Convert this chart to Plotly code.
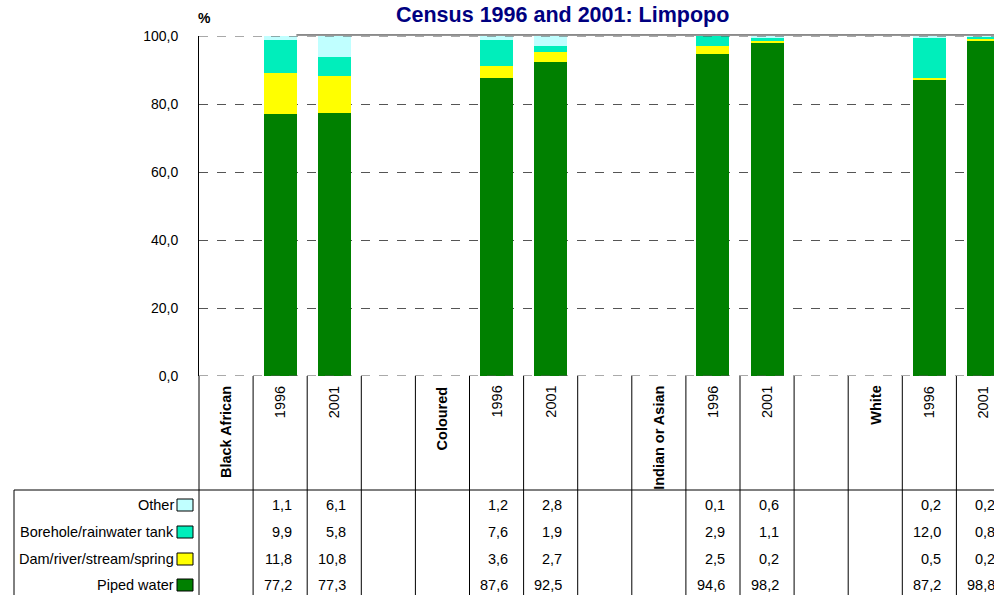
import plotly.graph_objects as go

# ---- data ----
groups = ["Black African", "Coloured", "Indian or Asian", "White"]
years = ["1996", "2001"]
# values per bar: BA96, BA01, C96, C01, IA96, IA01, W96, W01
other = [1.1, 6.1, 1.2, 2.8, 0.1, 0.6, 0.2, 0.2]
borehole = [9.9, 5.8, 7.6, 1.9, 2.9, 1.1, 12.0, 0.8]
dam = [11.8, 10.8, 3.6, 2.7, 2.5, 0.2, 0.5, 0.2]
piped = [77.2, 77.3, 87.6, 92.5, 94.6, 98.2, 87.2, 98.8]
yticks = [0, 20, 40, 60, 80, 100]
ytick_labels = ["0,0", "20,0", "40,0", "60,0", "80,0", "100,0"]
title = "Census 1996 and 2001: Limpopo"

# ---- layout geometry (pixels) ----
W, H = 994, 595
ML, MT = 199, 36
plot_w = W - ML
plot_h = 340
MB = H - MT - plot_h

group_pos = [4 * i for i in range(len(groups))]
bar_pos = []
for g in group_pos:
    bar_pos += [g + 1, g + 2]
col_w_px = 54.1
x_min = -0.5
x_max = -0.5 + plot_w / col_w_px


def py(p):  # pixel y -> paper
    return ((MT + plot_h) - p) / plot_h


def px(p):  # pixel x -> paper
    return (p - ML) / plot_w


def xdata_to_paper(x):
    return (x - x_min) / (x_max - x_min)


FONT = "Liberation Sans, Arial, sans-serif"

fig = go.Figure()
stack = [("Piped water", piped, "#008000"),
         ("Dam/river/stream/spring", dam, "#FFFF00"),
         ("Borehole/rainwater tank", borehole, "#00EEBB"),
         ("Other", other, "#C0FFFF")]
for name, vals, col in stack:
    fig.add_trace(go.Bar(x=bar_pos, y=vals, name=name, marker_color=col,
                         marker_line_width=0, width=0.61, showlegend=False))

shapes = []
annotations = []
# dashed lines at 0 and 100, solid top border segment
for yv in (0, 100):
    shapes.append(dict(type="line", xref="paper", yref="y", x0=0, x1=1, y0=yv, y1=yv,
                       line=dict(color="#555555", width=1, dash="dash")))
shapes.append(dict(type="line", xref="x", yref="paper", x0=1.3, x1=x_max, y0=1.003, y1=1.003,
                   line=dict(color="#222222", width=1)))
# vertical column lines below the plot
n_cols = 15
for k in range(1, n_cols + 1):
    shapes.append(dict(type="line", xref="x", yref="paper", x0=-0.5 + k, x1=-0.5 + k,
                       y0=0, y1=py(H + 5), line=dict(color="black", width=1)))
shapes.append(dict(type="line", xref="paper", yref="paper", x0=0, x1=0,
                   y0=0, y1=py(H + 5), line=dict(color="black", width=1)))
# table top line and left border
shapes.append(dict(type="line", xref="paper", yref="paper", x0=px(14), x1=1,
                   y0=py(490), y1=py(490), line=dict(color="black", width=1)))
shapes.append(dict(type="line", xref="paper", yref="paper", x0=px(14), x1=px(14),
                   y0=py(490), y1=py(H + 5), line=dict(color="black", width=1)))

# category labels
for g, name in zip(group_pos, groups):
    annotations.append(dict(x=xdata_to_paper(g), y=py(384), xref="paper", yref="paper",
                            text="<b>" + name + "</b>",
                            textangle=-90, showarrow=False, xanchor="center", yanchor="top",
                            font=dict(family=FONT, size=14.5, color="black")))
    for j, yr in enumerate(years):
        annotations.append(dict(x=xdata_to_paper(g + 1 + j), y=py(384), xref="paper", yref="paper",
                                text=yr, textangle=-90, showarrow=False,
                                xanchor="center", yanchor="top",
                                font=dict(family=FONT, size=14.5, color="black")))

# data table rows
row_y = [505, 532, 559, 585]
table_series = [("Other", other, "#C0FFFF"),
                ("Borehole/rainwater tank", borehole, "#00EEBB"),
                ("Dam/river/stream/spring", dam, "#FFFF00"),
                ("Piped water", piped, "#008000")]
for ry, (name, vals, col) in zip(row_y, table_series):
    annotations.append(dict(x=px(176), y=py(ry), xref="paper", yref="paper", text=name,
                            showarrow=False, xanchor="right", yanchor="middle",
                            font=dict(family=FONT, size=14.5, color="black")))
    shapes.append(dict(type="rect", xref="paper", yref="paper", x0=px(177), x1=px(193),
                       y0=py(ry + 6), y1=py(ry - 6), fillcolor=col,
                       line=dict(color="black", width=1)))
    for xpos, v in zip(bar_pos, vals):
        annotations.append(dict(x=xdata_to_paper(xpos + 0.5 - 13.5 / col_w_px), y=py(ry),
                                xref="paper", yref="paper",
                                text=f"{v:.1f}".replace(".", ","), showarrow=False,
                                xanchor="right", yanchor="middle",
                                font=dict(family=FONT, size=14.5, color="black")))

# "%" unit label and title
annotations.append(dict(x=px(204), y=py(18), xref="paper", yref="paper", text="<b>%</b>",
                        showarrow=False, xanchor="center", yanchor="middle",
                        font=dict(family=FONT, size=14, color="black")))
annotations.append(dict(x=px(562), y=py(15), xref="paper", yref="paper", text="<b>" + title + "</b>",
                        showarrow=False, xanchor="center", yanchor="middle",
                        font=dict(family=FONT, size=21.5, color="#000080")))

fig.update_layout(
    width=W, height=H,
    margin=dict(l=ML, r=0, t=MT, b=MB, pad=0),
    paper_bgcolor="white", plot_bgcolor="white",
    barmode="stack", bargap=0,
    shapes=shapes, annotations=annotations,
    font=dict(family=FONT, size=14, color="black"),
)
fig.update_xaxes(range=[x_min, x_max], showticklabels=False, ticks="", showgrid=False,
                 zeroline=False, showline=False, fixedrange=True)
fig.update_yaxes(range=[0, 100], tickvals=yticks, ticktext=ytick_labels,
                 showgrid=True, gridcolor="#555555", griddash="dash", gridwidth=1,
                 zeroline=False, showline=True, linecolor="black", linewidth=1,
                 ticks="outside", ticklen=17, tickcolor="rgba(0,0,0,0)",
                 tickfont=dict(family=FONT, size=14, color="black"), fixedrange=True)

fig.write_html("out.html", config={"displayModeBar": False},
               post_script="document.body.style.margin='0px';document.body.style.overflow='hidden';")
